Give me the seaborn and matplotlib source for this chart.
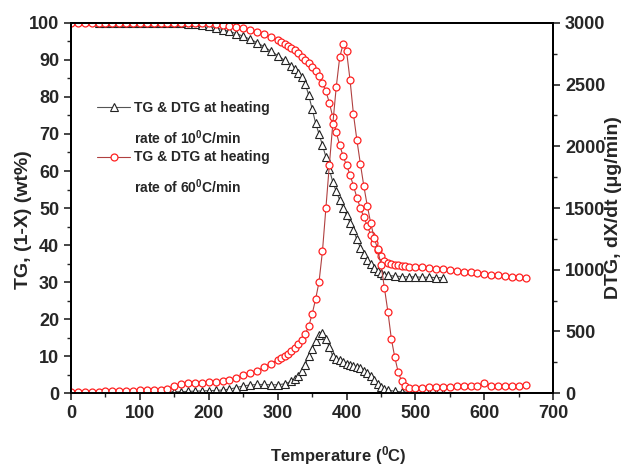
import matplotlib
matplotlib.use("Agg")
import matplotlib.pyplot as plt
from matplotlib.lines import Line2D
from matplotlib.ticker import MultipleLocator
import seaborn as sns

# heating rate 10 C/min (black triangles)
temp_10 = [40, 50, 60, 70, 80, 90, 100, 110, 120, 130, 140, 150, 160, 170, 180, 190, 200,
           210, 220, 230, 240, 250, 260, 270, 280, 290, 300, 310, 320,
           325, 330, 335, 340, 345, 350, 355, 360, 365, 370, 375, 380, 385, 390, 395, 400,
           405, 410, 415, 420, 425, 430, 435, 440, 445, 450, 455, 460,
           470, 480, 490, 500, 510, 520, 530, 540]
tg_10 = [100, 100, 100, 100, 100, 100, 100, 100, 100, 100, 100, 100,
         99.9, 99.8, 99.6, 99.4, 99.1, 98.7, 98.2, 97.7, 97.1, 96.4, 95.6, 94.7, 93.6,
         92.4, 91.2, 89.9, 88.4,
         87.5, 86.6, 85.5, 83.6, 80.5, 76.8, 73, 70, 67, 63.8, 60.5, 57, 54.5, 52.2,
         50, 48, 46, 44, 41.5, 39.3, 37.5, 36, 34.8, 33.8, 33, 32.4, 32, 31.8,
         31.6, 31.5, 31.4, 31.4, 31.3, 31.3, 31.2, 31.2]
dtg_10 = [3, 3, 4, 4, 5, 5, 6, 6, 7, 8, 9, 10,
          12, 14, 16, 18, 20, 22, 25, 32, 45, 58, 66, 70, 70, 68, 68, 75, 95,
          115, 140, 180, 230, 300, 360, 420, 470, 485, 440, 370, 300, 280, 265,
          252, 240, 230, 220, 210, 200, 180, 160, 135, 105, 75, 50, 35, 25,
          15, 10, 8, 6, 5, 5, 5, 5]

# heating rate 60 C/min (red circles)
temp_60 = [0, 10, 20, 30, 40, 50, 60, 70, 80, 90, 100, 110, 120, 130, 140, 150, 160,
           170, 180, 190, 200, 210, 220, 230, 240, 250, 260, 270, 280, 290, 300,
           305, 310, 315, 320, 325, 330, 335, 340, 345, 350, 355, 360, 365, 370, 375,
           380, 385, 390, 395, 400, 405, 410, 415, 420, 425, 430, 435, 440, 445, 450,
           455, 460, 465, 470, 475, 480, 485, 490,
           500, 510, 520, 530, 540, 550, 560, 570, 580, 590, 600, 610, 620, 630, 640,
           650, 660]
tg_60 = [100, 100, 100, 100, 100, 100, 100, 100, 100, 100, 100, 100, 100, 100, 100,
         100, 100, 100, 100, 100,
         99.9, 99.7, 99.5, 99.2, 98.9, 98.5, 98.1, 97.5, 96.9, 96.1, 95.3,
         94.8, 94.4, 93.9, 93.3, 92.6, 91.8, 90.9, 90, 89.1, 88.1, 87, 85.7, 83.8,
         81.5, 78.5, 74.5, 70.5, 67, 64, 61.5, 59, 56, 52.8, 50, 47.6, 45.2, 42.8,
         40.6, 38.6, 37, 35.8, 35.1, 34.8, 34.6, 34.5, 34.4, 34.3, 34.2,
         34.1, 34, 33.8, 33.6, 33.4, 33.2, 33, 32.8, 32.6, 32.4, 32.2, 32, 31.9,
         31.7, 31.5, 31.3, 31.1]
dtg_60 = [10, 10, 10, 10, 12, 14, 15, 16, 18, 20, 22, 24, 26, 28, 32, 60, 75, 80, 82,
          84, 88, 90, 95, 105, 125, 145, 165, 180, 210, 240, 270,
          285, 300, 320, 340, 365, 395, 430, 480, 540, 640, 760, 900, 1150, 1500,
          1850, 2180, 2480, 2720, 2830, 2770, 2540, 2260, 2050, 1860, 1680, 1520,
          1380, 1260, 1170, 1040, 850, 660, 440, 290, 170, 95, 60, 45,
          45, 45, 48, 50, 50, 52, 55, 55, 58, 60, 85, 60, 58, 58, 60, 60, 62]

legend_first = ["TG & DTG at heating", "TG & DTG at heating"]
legend_second = ["rate of 10$^0$C/min", "rate of 60$^0$C/min"]

sns.set_style("ticks")
plt.rcParams["font.family"] = ["Liberation Sans", "DejaVu Sans"]
plt.rcParams["font.weight"] = "bold"
plt.rcParams["mathtext.default"] = "regular"

fig = plt.figure(figsize=(6.23, 4.68), dpi=100)
ax = fig.add_axes([0.114, 0.160, 0.774, 0.791])
ax2 = ax.twinx()

black_style = dict(color="#555555", linewidth=0.8, marker="^", markersize=6,
                   markerfacecolor="white", markeredgecolor="#222222", markeredgewidth=0.8)
red_style = dict(color="#b04040", linewidth=0.8, marker="o", markersize=5,
                 markerfacecolor="white", markeredgecolor="#ff2020", markeredgewidth=0.9)

sns.lineplot(x=temp_10, y=tg_10, ax=ax, sort=False, **black_style)
sns.lineplot(x=temp_60, y=tg_60, ax=ax, sort=False, **red_style)
sns.lineplot(x=temp_10, y=dtg_10, ax=ax2, sort=False, **black_style)
sns.lineplot(x=temp_60, y=dtg_60, ax=ax2, sort=False, **red_style)

ax.set_xlim(0, 700)
ax.set_ylim(0, 100)
ax2.set_ylim(0, 3000)
ax.xaxis.set_major_locator(MultipleLocator(100))
ax.xaxis.set_minor_locator(MultipleLocator(50))
ax.yaxis.set_major_locator(MultipleLocator(10))
ax.yaxis.set_minor_locator(MultipleLocator(5))
ax2.yaxis.set_major_locator(MultipleLocator(500))
ax2.yaxis.set_minor_locator(MultipleLocator(250))

for a in (ax, ax2):
    a.tick_params(which="major", length=5, width=1.2, labelsize=13, direction="out")
    a.tick_params(which="minor", length=3, width=1.0, direction="out")
    for s in a.spines.values():
        s.set_linewidth(1.4)
        s.set_color("black")
    for lab in a.get_xticklabels() + a.get_yticklabels():
        lab.set_fontweight("bold")

ax.set_xlabel("Temperature ($^0$C)", fontsize=12, fontweight="bold")
ax.xaxis.set_label_coords(0.554, -0.138)
ax.set_ylabel("TG, (1-X) (wt%)", fontsize=14, fontweight="bold")
ax.yaxis.set_label_coords(-0.081, 0.468)
ax2.set_ylabel("DTG, dX/dt (\u03bcg/min)", fontsize=14, fontweight="bold")
ax2.yaxis.set_label_coords(1.108, 0.5)

# legend: handle + first line, then the second line of each label as text
handles = [Line2D([], [], **black_style), Line2D([], [], **red_style)]
ax.legend(handles, legend_first, loc="upper left", bbox_to_anchor=(97 / 623, 1 - 101 / 468),
          bbox_transform=fig.transFigure, frameon=False, borderpad=0, borderaxespad=0,
          handlelength=2.4, handletextpad=0.25, labelspacing=2.55,
          prop={"weight": "bold", "size": 10})
fig.text(134 / 623, 1 - 138 / 468, legend_second[0], fontsize=10, fontweight="bold", va="center")
fig.text(134 / 623, 1 - 187 / 468, legend_second[1], fontsize=10, fontweight="bold", va="center")

fig.savefig("out.png", dpi=100)
